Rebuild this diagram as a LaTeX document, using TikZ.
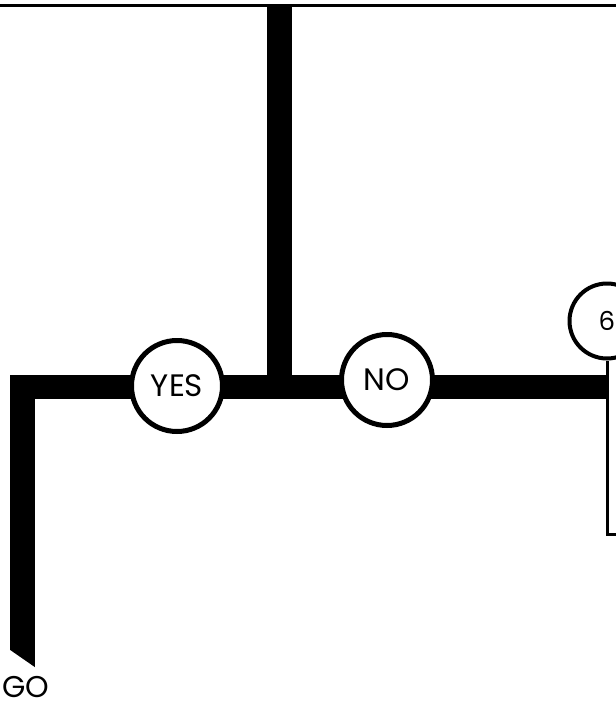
\documentclass[tikz,border=0pt]{standalone}
\usepackage{fontspec}
\setmainfont{Poppins}
\begin{document}
\begin{tikzpicture}[x=1pt,y=1pt,
  bar/.style={line width=24.5pt,line cap=butt,line join=miter},
  thin/.style={line width=3pt},
  ring/.style={circle,draw,line width=5pt,fill=white,minimum size=91pt,inner sep=0pt,font=\fontsize{31}{31}\selectfont},
  ringsmall/.style={circle,draw,line width=4pt,fill=white,minimum size=75pt,inner sep=0pt,font=\fontsize{26}{26}\selectfont},
  lbl/.style={inner sep=0pt,font=\fontsize{30}{30}\selectfont}]
\useasboundingbox (0,0) rectangle (616,-705);
% named points
\coordinate (topL) at (0,-5.5);
\coordinate (topR) at (616,-5.5);
\coordinate (stemtop) at (279.5,-5.5);
\coordinate (junction) at (279.5,-387);
\coordinate (corner) at (22.5,-387);
\coordinate (goend) at (22.5,-650);
\coordinate (barend) at (608,-387);
\coordinate (thinbot) at (608,-534);
\coordinate (thinend) at (620,-534);
% top line
\draw[thin] (topL) -- (topR);
% thick bars
\draw[bar] (stemtop) -- (junction);
\draw[bar] (goend) -- (corner) -- (barend);
\fill (10.25,-650) -- (34.75,-650) -- (34.75,-667) -- cycle;
% circles
\node[ring] (yes) at (177,-386) {YES};
\node[ring] (no) at (387,-380) {NO};
\node[ringsmall] (six) at (607,-321) {6};
% thin line from six
\draw[thin] (six.south) -- (six.south |- thinbot) -- (thinend);
% GO label
\node[lbl,anchor=south west] (go) at (2,-698) {GO};
\end{tikzpicture}
\end{document}
